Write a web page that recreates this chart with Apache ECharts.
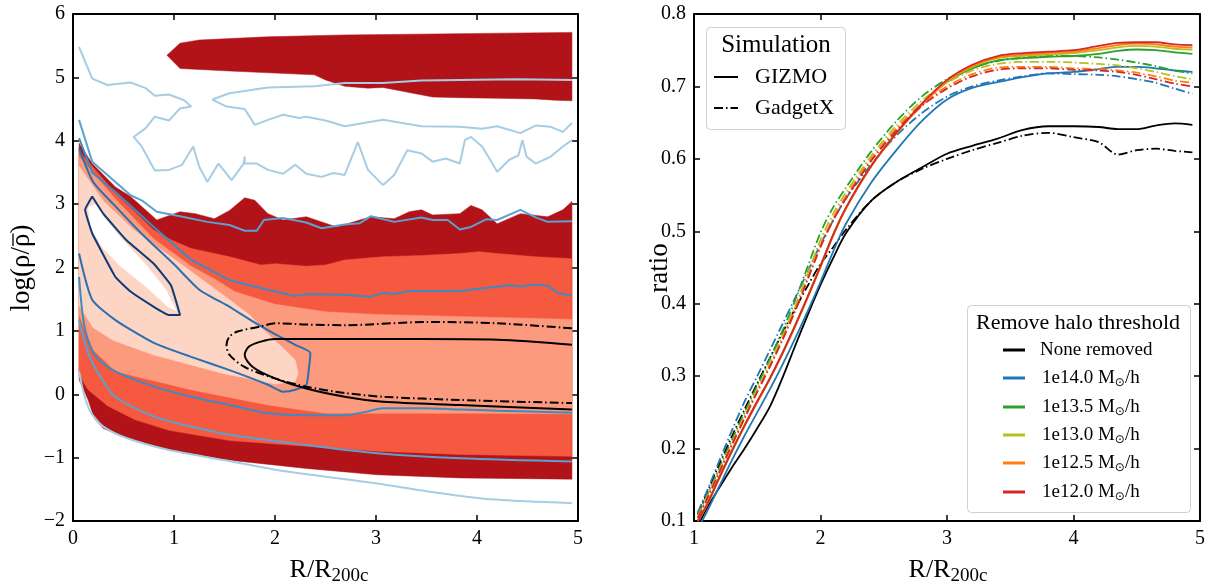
<!DOCTYPE html>
<html><head><meta charset="utf-8">
<script src="https://cdn.jsdelivr.net/npm/echarts@6/dist/echarts.min.js"></script>
<style>html,body{margin:0;padding:0;background:#fff}#c{width:1212px;height:588px}</style>
</head><body><div id="c"></div>
<script>
// ---------- LEFT PANEL DATA (R/R200c , log density) ----------
// filled density regions (outer to inner)
const fillLevel1 = [[0.06,3.96],[0.19,3.64],[0.42,3.27],[0.57,3.12],[0.83,2.75],[1.06,2.88],[1.21,2.85],[1.4,2.77],[1.55,2.9],[1.7,3.1],[1.8,3.06],[1.93,2.85],[2.08,2.75],[2.31,2.8],[2.61,2.64],[2.84,2.75],[2.95,2.8],[3.18,2.77],[3.33,2.88],[3.45,2.91],[3.56,2.83],[3.83,2.85],[3.94,2.98],[4.05,2.91],[4.2,2.69],[4.43,2.85],[4.7,2.8],[4.85,2.91],[4.94,3.04],
  [4.94,-1.34],[3.83,-1.32],[3.01,-1.27],[2.31,-1.17],[1.55,-1.04],[0.95,-0.88],[0.53,-0.69],[0.3,-0.54],[0.21,-0.38],[0.15,-0.09],[0.06,0.23]];
const fillLevel1Island = [[0.93,5.35],[1.06,5.54],[1.25,5.59],[1.93,5.64],[2.69,5.67],[3.83,5.69],[4.94,5.71],
  [4.94,4.63],[4.77,4.64],[4.58,4.66],[4.2,4.67],[3.83,4.68],[3.56,4.69],[3.07,4.84],[2.92,4.83],[2.69,4.86],[2.5,4.96],[2.39,5.04],[1.55,5.1],[1.06,5.14]];
const fillLevel2 = [[0.06,3.84],[0.42,3.17],[0.8,2.59],[0.98,2.43],[1.17,2.3],[1.55,2.17],[1.86,2.04],[2.0,2.06],[2.31,2.02],[2.5,2.04],[2.69,2.12],[3.07,2.17],[3.45,2.19],[3.83,2.22],[4.02,2.25],[4.2,2.22],[4.58,2.17],[4.94,2.14],
  [4.94,-0.98],[3.83,-0.95],[3.01,-0.9],[2.31,-0.82],[1.55,-0.73],[0.95,-0.57],[0.61,-0.4],[0.34,-0.18],[0.15,0.07],[0.06,0.3]];
const fillLevel3 = [[0.06,3.75],[0.42,3.08],[0.8,2.45],[1.17,2.02],[1.4,1.82],[1.6,1.62],[2.0,1.42],[2.5,1.3],[3.0,1.26],[3.5,1.24],[4.0,1.22],[4.5,1.2],[4.94,1.18],
  [4.94,-0.31],[4.0,-0.3],[3.07,-0.3],[2.5,-0.3],[1.93,-0.17],[1.17,0.07],[0.42,0.36],[0.2,0.7],[0.06,1.25]];
const fillLevel4 = [[0.06,3.6],[0.3,3.05],[0.6,2.6],[0.9,2.25],[1.2,1.9],[1.5,1.55],[1.75,1.25],[1.93,0.95],[2.08,0.73],[2.2,0.54],[2.23,0.33],[2.2,0.2],
  [2.0,0.16],[1.74,0.25],[1.5,0.32],[1.2,0.45],[0.8,0.62],[0.4,0.85],[0.2,1.05],[0.06,1.4]];
const fillHole = [[0.15,2.95],[0.23,3.0],[0.3,2.8],[0.5,2.42],[0.72,2.05],[0.92,1.65],[1.02,1.32],[0.94,1.38],[0.72,1.7],[0.47,2.02],[0.3,2.3],[0.18,2.6]];

// contour lines of the comparison sample
const contour1Upper = [[0.06,5.48],[0.19,4.98],[0.34,4.88],[0.57,4.92],[0.72,4.83],[0.81,4.71],[0.95,4.73],[1.1,4.64],[1.17,4.54],[1.06,4.51],[0.95,4.32],[0.81,4.38],[0.72,4.2],[0.6,4.06],[0.68,3.91],[0.81,3.53],[0.95,3.54],[1.08,3.62],[1.19,3.91],[1.25,3.59],[1.33,3.35],[1.44,3.64],[1.57,3.38],[1.69,3.64],[1.7,3.75],[1.7,3.64],[1.82,3.64],[1.93,3.54],[2.08,3.48],[2.2,3.62],[2.31,3.48],[2.46,3.43],[2.58,3.49],[2.69,3.46],[2.82,3.98],[2.92,3.54],[3.07,3.3],[3.18,3.46],[3.31,3.85],[3.45,3.8],[3.56,3.67],[3.69,3.72],[3.83,3.64],[3.88,4.01],[3.94,4.06],[4.05,3.91],[4.13,3.7],[4.2,3.51],[4.32,3.7],[4.41,3.77],[4.45,4.01],[4.49,3.75],[4.58,3.64],[4.73,3.75],[4.85,3.91],[4.94,4.01]];
const contour1Island = [[4.94,4.96],[4.39,4.97],[3.83,4.96],[3.45,4.95],[3.07,4.91],[2.69,4.91],[2.39,4.86],[1.93,4.84],[1.55,4.75],[1.38,4.65],[1.52,4.54],[1.7,4.5],[1.8,4.25],[1.93,4.33],[2.08,4.41],[2.24,4.36],[2.31,4.38],[2.5,4.32],[2.69,4.23],[3.07,4.33],[3.45,4.23],[3.83,4.22],[4.05,4.19],[4.2,4.23],[4.43,4.12],[4.58,4.24],[4.73,4.22],[4.85,4.14],[4.94,4.28]];
const contour1Lower = [[0.06,0.36],[0.1,0.05],[0.15,-0.2],[0.19,-0.32],[0.3,-0.51],[0.53,-0.69],[0.95,-0.88],[1.5,-1.04],[2.0,-1.19],[2.5,-1.3],[3.01,-1.41],[3.5,-1.53],[4.02,-1.64],[4.5,-1.69],[4.94,-1.72]];
const contour2Upper = [[0.06,4.33],[0.19,3.67],[0.42,3.35],[0.57,3.14],[0.68,3.06],[0.83,2.88],[1.06,2.81],[1.33,2.72],[1.55,2.67],[1.7,2.58],[1.82,2.58],[1.89,2.75],[2.08,2.78],[2.31,2.71],[2.46,2.62],[2.69,2.68],[2.84,2.7],[2.95,2.81],[3.18,2.72],[3.45,2.79],[3.56,2.75],[3.71,2.75],[3.83,2.6],[3.94,2.64],[4.09,2.76],[4.2,2.75],[4.43,2.91],[4.58,2.79],[4.7,2.72],[4.94,2.73]];
const contour2Lower = [[0.06,1.17],[0.15,0.65],[0.27,0.28],[0.42,-0.04],[0.8,-0.35],[1.17,-0.51],[1.55,-0.64],[2.31,-0.8],[3.01,-0.93],[3.83,-1.01],[4.94,-1.06]];
const contour3Upper = [[0.06,4.04],[0.19,3.5],[0.42,3.19],[0.8,2.64],[1.17,2.12],[1.55,1.8],[1.93,1.65],[2.2,1.55],[2.31,1.58],[2.69,1.57],[2.95,1.54],[3.07,1.6],[3.18,1.58],[3.33,1.63],[3.83,1.63],[4.32,1.72],[4.43,1.7],[4.58,1.73],[4.7,1.71],[4.81,1.59],[4.94,1.56]];
const contour3Lower = [[0.06,1.85],[0.1,1.2],[0.15,0.85],[0.23,0.59],[0.42,0.36],[0.8,0.12],[1.17,-0.04],[1.55,-0.17],[1.93,-0.3],[2.31,-0.33],[2.69,-0.33],[2.92,-0.27],[3.07,-0.22],[3.45,-0.22],[3.83,-0.24],[4.2,-0.26],[4.94,-0.29]];
const contour4 = [[0.06,3.88],[0.2,3.35],[0.4,3.0],[0.7,2.5],[1.0,2.05],[1.25,1.65],[1.55,1.38],[1.8,1.13],[2.0,0.95],[2.2,0.78],[2.35,0.65],[2.33,0.33],[2.31,0.15],[2.2,0.07],[2.08,0.04],[1.93,0.15],[1.55,0.38],[1.17,0.59],[0.8,0.81],[0.42,1.17],[0.19,1.49],[0.06,2.22]];
const contour5 = [[0.19,3.12],[0.3,2.85],[0.53,2.43],[0.8,2.06],[0.97,1.72],[1.06,1.25],[0.95,1.25],[0.8,1.38],[0.57,1.62],[0.42,1.85],[0.19,2.54],[0.12,2.91],[0.19,3.12]];
// black contours (GIZMO solid, GadgetX dash-dot)
const blackGizmo = [[4.94,0.78],[4.2,0.86],[3.45,0.87],[2.69,0.87],[2.0,0.87],[1.86,0.83],[1.74,0.75],[1.7,0.62],[1.78,0.43],[2.0,0.25],[2.31,0.09],[2.69,-0.04],[3.07,-0.12],[3.83,-0.17],[4.94,-0.24]];
const blackGadget = [[4.94,1.04],[4.2,1.12],[3.52,1.14],[2.69,1.09],[2.31,1.1],[2.0,1.12],[1.86,1.07],[1.63,0.99],[1.55,0.91],[1.52,0.78],[1.55,0.62],[1.7,0.43],[2.0,0.25],[2.31,0.12],[2.69,0.02],[3.07,-0.04],[3.83,-0.09],[4.94,-0.14]];

const leftXTicks = [0,1,2,3,4,5];
const leftYTicks = [-2,-1,0,1,2,3,4,5,6];

// ---------- RIGHT PANEL DATA (ratio) ----------
const ratioX = [1.03,1.1,1.2,1.3,1.4,1.5,1.6,1.7,1.8,1.9,2.0,2.1,2.2,2.4,2.6,2.8,3.0,3.2,3.4,3.6,3.8,4.0,4.2,4.35,4.5,4.65,4.8,4.94];
const gizmoNone = [0.092,0.117,0.146,0.174,0.2,0.228,0.258,0.298,0.342,0.385,0.426,0.463,0.497,0.542,0.568,0.588,0.607,0.618,0.628,0.64,0.645,0.645,0.644,0.641,0.641,0.646,0.649,0.647];
const gizmo140 = [0.09,0.112,0.148,0.184,0.218,0.25,0.282,0.316,0.352,0.39,0.43,0.472,0.51,0.567,0.612,0.652,0.682,0.698,0.706,0.713,0.718,0.72,0.724,0.727,0.727,0.725,0.722,0.72];
const gizmo135 = [0.1,0.122,0.16,0.197,0.232,0.265,0.297,0.332,0.37,0.41,0.452,0.495,0.532,0.59,0.636,0.675,0.706,0.725,0.736,0.739,0.741,0.742,0.745,0.749,0.751,0.75,0.747,0.745];
const gizmo130 = [0.1,0.122,0.16,0.197,0.232,0.265,0.297,0.332,0.37,0.41,0.452,0.495,0.532,0.59,0.636,0.675,0.707,0.727,0.739,0.742,0.744,0.746,0.75,0.754,0.756,0.755,0.752,0.751];
const gizmo125 = [0.1,0.121,0.159,0.196,0.231,0.264,0.296,0.331,0.369,0.409,0.451,0.494,0.531,0.589,0.635,0.674,0.707,0.728,0.74,0.744,0.746,0.748,0.753,0.757,0.759,0.758,0.755,0.754];
const gizmo120 = [0.1,0.122,0.16,0.197,0.232,0.265,0.297,0.332,0.37,0.41,0.452,0.495,0.532,0.59,0.636,0.676,0.709,0.73,0.742,0.746,0.748,0.75,0.756,0.76,0.761,0.761,0.758,0.757];
const gadgetNone = [0.11,0.138,0.178,0.217,0.254,0.29,0.325,0.36,0.393,0.425,0.455,0.478,0.502,0.542,0.568,0.586,0.6,0.612,0.622,0.632,0.636,0.63,0.623,0.606,0.612,0.614,0.611,0.609];
const gadget140 = [0.112,0.14,0.183,0.225,0.265,0.3,0.336,0.372,0.408,0.445,0.482,0.515,0.545,0.592,0.632,0.663,0.686,0.7,0.708,0.714,0.718,0.717,0.716,0.714,0.71,0.705,0.697,0.69];
const gadget135 = [0.108,0.134,0.173,0.212,0.25,0.287,0.324,0.363,0.405,0.452,0.498,0.533,0.56,0.61,0.652,0.686,0.71,0.726,0.735,0.74,0.742,0.742,0.74,0.737,0.733,0.728,0.722,0.718];
const gadget130 = [0.106,0.132,0.17,0.208,0.246,0.282,0.318,0.356,0.397,0.442,0.488,0.524,0.553,0.604,0.646,0.68,0.705,0.722,0.731,0.734,0.734,0.733,0.731,0.729,0.725,0.72,0.714,0.71];
const gadget125 = [0.105,0.13,0.168,0.206,0.243,0.279,0.314,0.352,0.392,0.436,0.481,0.518,0.548,0.6,0.642,0.676,0.7,0.717,0.726,0.727,0.727,0.725,0.724,0.722,0.719,0.714,0.708,0.705];
const gadget120 = [0.104,0.129,0.167,0.205,0.242,0.278,0.313,0.35,0.39,0.434,0.478,0.515,0.545,0.597,0.639,0.673,0.697,0.714,0.723,0.725,0.725,0.723,0.722,0.72,0.716,0.71,0.704,0.7];
const thresholdLabels = ['None removed','1e14.0','1e13.5','1e13.0','1e12.5','1e12.0'];
const simulationLabels = ['GIZMO','GadgetX'];

// ---------- styling ----------
const FONT = '"Liberation Serif","DejaVu Serif",serif';
const thrColors = ['#000000','#1f77b4','#2ca02c','#bcbd22','#ff7f0e','#d62728'];
const DASHDOT = [9,3,1.5,3];
const fillColors = {l1:'#b11319', l2:'#f5593f', l3:'#fc9a7e', l4:'#fdd5c4', hole:'#ffffff'};
const blues = ['#a6cde3','#5aa2d0','#3c8bc3','#2a6fb0','#0d3a78'];

const chart = echarts.init(document.getElementById('c'), null, {renderer:'canvas'});

function polySeries(pts, color){
  return {type:'custom', xAxisIndex:0, yAxisIndex:0, data:[[0,0]], clip:true, silent:true, z:1,
    renderItem:(params, api)=>({type:'polygon', shape:{points: pts.map(p=>api.coord(p))}, style:{fill:color, stroke:color, lineWidth:0.5}})};
}
function contourSeries(pts, color, width, dash, smooth){
  return {type:'line', xAxisIndex:0, yAxisIndex:0, data:pts, showSymbol:false, smooth:smooth||0, z:3, silent:true,
    lineStyle:{color:color, width:width, type:dash||'solid'}};
}
const zip = (xs, ys)=>xs.map((x,i)=>[x, ys[i]]);
function ratioSeries(ys, color, dash){
  return {type:'line', xAxisIndex:2, yAxisIndex:2, data:zip(ratioX, ys), showSymbol:false, smooth:0.3, z:3, silent:true,
    lineStyle:{color:color, width:1.8, type:dash||'solid'}};
}

const axisCommon = (pos, show)=>({
  position:pos, axisLine:{onZero:false, lineStyle:{color:'#000', width:2}},
  axisTick:{show:true, inside:true, length:6, lineStyle:{color:'#000', width:1.5}},
  splitLine:{show:false},
  axisLabel:{show:show, color:'#000', fontFamily:FONT, fontSize:20, margin:8}
});
const minusFmt = v => String(v).replace('-', '\u2212');

const option = {
  animation:false,
  backgroundColor:'#fff',
  grid:[{left:73, top:14, width:505, height:507},{left:694, top:14, width:506, height:507}],
  xAxis:[
    Object.assign({type:'value', gridIndex:0, min:leftXTicks[0], max:leftXTicks[leftXTicks.length-1], interval:1}, axisCommon('bottom', true)),
    Object.assign({type:'value', gridIndex:0, min:0, max:5, interval:1}, axisCommon('top', false)),
    Object.assign({type:'value', gridIndex:1, min:1, max:5, interval:1}, axisCommon('bottom', true)),
    Object.assign({type:'value', gridIndex:1, min:1, max:5, interval:1}, axisCommon('top', false))
  ],
  yAxis:[
    Object.assign({type:'value', gridIndex:0, min:leftYTicks[0], max:leftYTicks[leftYTicks.length-1], interval:1}, axisCommon('left', true)),
    Object.assign({type:'value', gridIndex:0, min:-2, max:6, interval:1}, axisCommon('right', false)),
    Object.assign({type:'value', gridIndex:1, min:0.1, max:0.8, interval:0.1}, axisCommon('left', true)),
    Object.assign({type:'value', gridIndex:1, min:0.1, max:0.8, interval:0.1}, axisCommon('right', false))
  ],
  series:[]
};
option.yAxis[0].axisLabel.formatter = minusFmt;
option.yAxis[2].axisLabel.formatter = v => v.toFixed(1);

option.series.push(
  polySeries(fillLevel1, fillColors.l1),
  polySeries(fillLevel1Island, fillColors.l1),
  polySeries(fillLevel2, fillColors.l2),
  polySeries(fillLevel3, fillColors.l3),
  polySeries(fillLevel4, fillColors.l4),
  polySeries(fillHole, fillColors.hole),
  contourSeries(contour1Upper, blues[0], 2),
  contourSeries(contour1Island, blues[0], 2),
  contourSeries(contour1Lower, blues[0], 2, null, 0.3),
  contourSeries(contour2Upper, blues[1], 2),
  contourSeries(contour2Lower, blues[1], 2, null, 0.3),
  contourSeries(contour3Upper, blues[2], 2),
  contourSeries(contour3Lower, blues[2], 2, null, 0.3),
  contourSeries(contour4, blues[3], 2, null, 0.2),
  contourSeries(contour5, blues[4], 2, null, 0.1),
  contourSeries(blackGizmo, '#000', 2, null, 0.3),
  contourSeries(blackGadget, '#000', 2, DASHDOT, 0.3)
);
const gizmoSets = [gizmoNone,gizmo140,gizmo135,gizmo130,gizmo125,gizmo120];
const gadgetSets = [gadgetNone,gadget140,gadget135,gadget130,gadget125,gadget120];
for (let i=0;i<6;i++){
  option.series.push(ratioSeries(gizmoSets[i], thrColors[i]));
  option.series.push(ratioSeries(gadgetSets[i], thrColors[i], DASHDOT));
}

// ---------- axis titles and legends (graphic) ----------
const g = [];
// y label of left panel with an overbar on the second rho
const YLF = 27;
const mctx = document.createElement('canvas').getContext('2d');
mctx.font = YLF + 'px "Liberation Serif"';
const wPre = mctx.measureText('log(\u03c1/').width, wRho = mctx.measureText('\u03c1').width, wAll = mctx.measureText('log(\u03c1/\u03c1)').width;
g.push({type:'group', x:22, y:268, rotation:Math.PI/2, children:[
  {type:'text', x:-wAll/2, y:0, style:{text:'log(\u03c1/\u03c1)', font:YLF+'px '+FONT, fill:'#000', align:'left', verticalAlign:'middle'}},
  {type:'line', shape:{x1:-wAll/2+wPre+1, y1:-9, x2:-wAll/2+wPre+wRho, y2:-9}, style:{stroke:'#000', lineWidth:1.3}}
]});
g.push({type:'text', x:660, y:268, rotation:Math.PI/2, style:{text:'ratio', font:'27px '+FONT, fill:'#000', align:'center', verticalAlign:'middle'}});
function xlabel(cx){
  return {type:'text', x:cx, y:570, style:{text:'{a|R/R}{s|200c}', align:'center', verticalAlign:'middle', fill:'#000',
    rich:{a:{fontFamily:FONT, fontSize:26, fill:'#000'}, s:{fontFamily:FONT, fontSize:19, fill:'#000', padding:[12,0,0,0]}}}};
}
g.push(xlabel(329), xlabel(948));
// Simulation legend
g.push({type:'rect', shape:{x:706.5, y:27.5, width:139, height:102, r:4}, style:{fill:'rgba(255,255,255,0.8)', stroke:'#d0d0d0', lineWidth:1}, z:10});
g.push({type:'text', x:776, y:45, z:11, style:{text:'Simulation', font:'25px '+FONT, fill:'#000', align:'center', verticalAlign:'middle'}});
[[77,'solid'],[108,DASHDOT]].forEach((r,i)=>{
  g.push({type:'line', z:11, shape:{x1:714, y1:r[0], x2:738, y2:r[0]}, style:{stroke:'#000', lineWidth:2, lineDash: r[1]==='solid'?null:r[1]}});
  g.push({type:'text', z:11, x:755, y:r[0], style:{text:simulationLabels[i], font:'22px '+FONT, fill:'#000', align:'left', verticalAlign:'middle'}});
});
// Threshold legend
g.push({type:'rect', shape:{x:967.5, y:305.5, width:223, height:207, r:4}, style:{fill:'rgba(255,255,255,0.8)', stroke:'#d0d0d0', lineWidth:1}, z:10});
g.push({type:'text', x:1078, y:323, z:11, style:{text:'Remove halo threshold', font:'22px '+FONT, fill:'#000', align:'center', verticalAlign:'middle'}});
const rowY = [350,378,407,435,463,492];
thresholdLabels.forEach((lab,i)=>{
  g.push({type:'line', z:11, shape:{x1:1003, y1:rowY[i], x2:1025, y2:rowY[i]}, style:{stroke:thrColors[i], lineWidth:3}});
  const txt = i===0 ? '{a|'+lab+'}' : '{a|'+lab+' M}{s|\u2299}{a|/h}';
  g.push({type:'text', z:11, x:i===0?1040:1042, y:rowY[i], style:{text:txt, align:'left', verticalAlign:'middle', fill:'#000',
    rich:{a:{fontFamily:FONT, fontSize:19, fill:'#000'}, s:{fontFamily:'"DejaVu Sans",sans-serif', fontSize:12, fill:'#000', padding:[9,0,0,0]}}}});
});
option.graphic = g;
chart.setOption(option);
</script></body></html>
